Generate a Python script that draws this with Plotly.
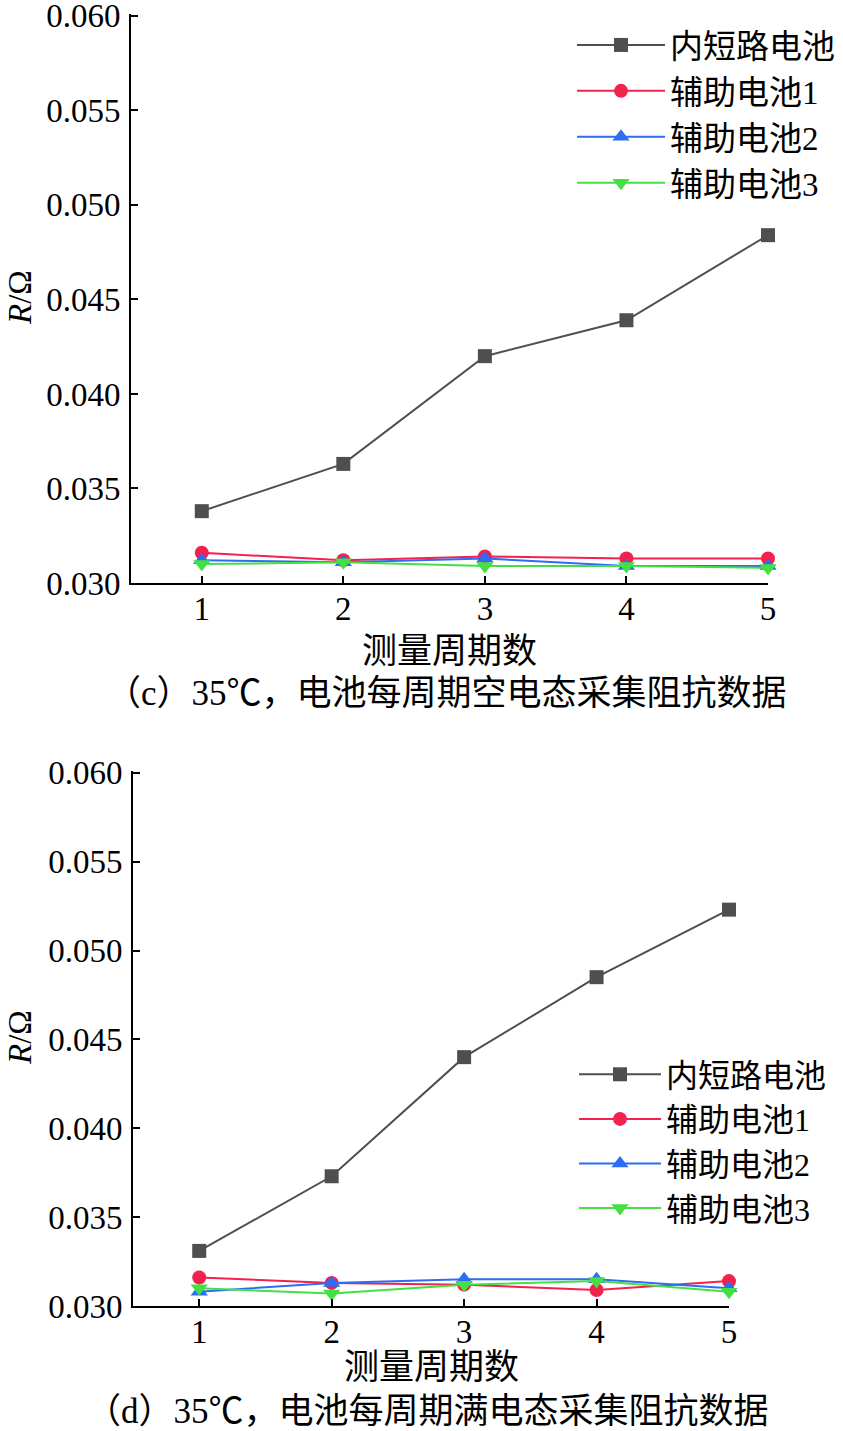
import plotly.graph_objects as go

cycles = [1, 2, 3, 4, 5]
names = ["内短路电池", "辅助电池1", "辅助电池2", "辅助电池3"]

# (c) empty state
c_short = [0.0338, 0.0363, 0.0420, 0.0439, 0.0484]
c_aux1 = [0.0316, 0.0312, 0.0314, 0.0313, 0.0313]
c_aux2 = [0.0312, 0.0311, 0.0313, 0.0309, 0.0309]
c_aux3 = [0.0310, 0.0311, 0.0309, 0.0309, 0.0308]

# (d) full state
d_short = [0.0331, 0.0373, 0.0440, 0.0485, 0.0523]
d_aux1 = [0.0316, 0.0313, 0.0312, 0.0309, 0.0314]
d_aux2 = [0.0308, 0.0313, 0.0315, 0.0315, 0.0310]
d_aux3 = [0.0310, 0.0307, 0.0312, 0.0314, 0.0308]

y_ticks = [0.030, 0.035, 0.040, 0.045, 0.050, 0.055, 0.060]
y_ticktext = ["0.030", "0.035", "0.040", "0.045", "0.050", "0.055", "0.060"]

colors = ["#4F4F4F", "#F2214D", "#2E6CF2", "#43E043"]
symbols = ["square", "circle", "triangle-up", "triangle-down"]
msizes = [14, 14, 15, 15]

W, H = 843, 1431
LAT = "Liberation Serif, Times New Roman, Noto Sans CJK SC"
FS = 33

fig = go.Figure()

sets = [
    ([c_short, c_aux1, c_aux2, c_aux3], "x", "y", "legend"),
    ([d_short, d_aux1, d_aux2, d_aux3], "x2", "y2", "legend2"),
]
for series, xa, ya, lg in sets:
    for i, ys in enumerate(series):
        fig.add_trace(go.Scatter(
            x=cycles, y=ys, mode="lines+markers", name=names[i],
            xaxis=xa, yaxis=ya, legend=lg, legendgroup=lg + str(i),
            line=dict(color=colors[i], width=2),
            marker=dict(symbol=symbols[i], size=msizes[i], color=colors[i], line=dict(width=0)),
            cliponaxis=False,
        ))

def px_x(p):
    return p / W

def px_y(p):
    return 1 - p / H

axis_common = dict(
    showline=True, linecolor="black", linewidth=2, ticks="inside", ticklen=7,
    tickwidth=2, tickcolor="black", showgrid=False, zeroline=False, automargin=False,
    tickfont=dict(family=LAT, size=FS, color="black"), mirror=False,
    ticklabeloverflow="allow",
)
xstand = -5
ystand = 2

fig.update_layout(
    template="none",
    width=W, height=H, margin=dict(l=0, r=0, t=0, b=0, autoexpand=False),
    paper_bgcolor="white", plot_bgcolor="white", showlegend=True,
    xaxis=dict(domain=[px_x(131), px_x(768)], range=[0.5, 5], anchor="y",
               tickvals=cycles, ticktext=[str(c) for c in cycles], ticklabelstandoff=xstand, **axis_common),
    yaxis=dict(domain=[px_y(583), px_y(14)], range=[0.030, 0.0601], anchor="x",
               tickvals=y_ticks, ticktext=y_ticktext, ticklabelstandoff=ystand, **axis_common),
    xaxis2=dict(domain=[px_x(133), px_x(729)], range=[0.5, 5], anchor="y2",
                tickvals=cycles, ticktext=[str(c) for c in cycles], ticklabelstandoff=xstand, **axis_common),
    yaxis2=dict(domain=[px_y(1306), px_y(771)], range=[0.030, 0.0601], anchor="x2",
                tickvals=y_ticks, ticktext=y_ticktext, ticklabelstandoff=ystand, **axis_common),
    legend=dict(x=px_x(572), y=px_y(17), xanchor="left", yanchor="top",
                font=dict(family=LAT, size=FS, color="black"), bgcolor="rgba(0,0,0,0)",
                itemwidth=88, tracegroupgap=0),
    legend2=dict(x=px_x(574), y=px_y(1047), xanchor="left", yanchor="top",
                 font=dict(family=LAT, size=FS - 1, color="black"), bgcolor="rgba(0,0,0,0)",
                 itemwidth=82, tracegroupgap=0),
)

ann = [
    dict(text="测量周期数", x=px_x(450), y=px_y(651)),
    dict(text="（c）35℃，电池每周期空电态采集阻抗数据", x=px_x(447), y=px_y(693)),
    dict(text="测量周期数", x=px_x(431), y=px_y(1367)),
    dict(text="（d）35℃，电池每周期满电态采集阻抗数据", x=px_x(427), y=px_y(1411)),
]
for a in ann:
    fig.add_annotation(xref="paper", yref="paper", showarrow=False, xanchor="center", yanchor="middle",
                       font=dict(family=LAT, size=FS + 2, color="black"), **a)
for yc in [298, 1038]:
    fig.add_annotation(xref="paper", yref="paper", showarrow=False, text="<i>R</i>/Ω", textangle=-90,
                       x=px_x(20), y=px_y(yc), xanchor="center", yanchor="middle",
                       font=dict(family=LAT, size=FS, color="black"))

fig.write_html("out.html")
